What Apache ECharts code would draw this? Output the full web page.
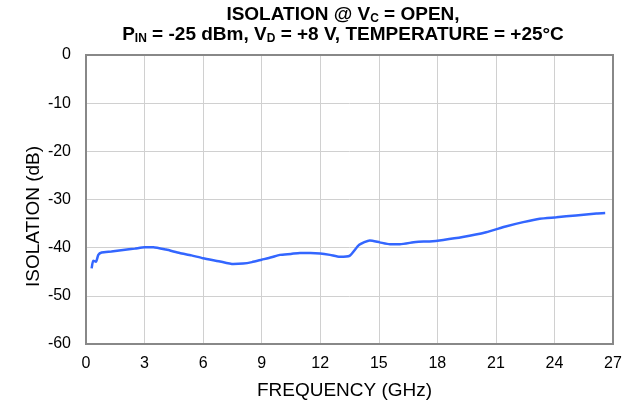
<!DOCTYPE html>
<html>
<head>
<meta charset="utf-8">
<title>Isolation</title>
<script src="https://cdn.jsdelivr.net/npm/echarts@6/dist/echarts.min.js"></script>
<style>
  html, body { margin: 0; padding: 0; background: #fff; }
  #chart { width: 636px; height: 405px; }
</style>
</head>
<body>
<div id="chart"></div>
<script>
// frequency (GHz) and isolation (dB)
var freq = [0.29, 0.37, 0.51, 0.63, 0.8, 1.3, 1.9, 2.5, 3.0, 3.45, 4.1, 4.8, 5.4, 6.0, 6.8, 7.55, 8.05, 8.5, 9.0, 9.5, 9.93, 10.5, 10.96, 11.5, 12.0, 12.5, 13.0, 13.5, 14.0, 14.54, 15.05, 15.57, 16.08, 16.9, 17.6, 18.3, 19.3, 20.5, 21.5, 22.4, 23.25, 24.1, 25.1, 26.15, 26.6];
var isolation = [-44.3, -42.7, -42.9, -41.5, -41.0, -40.8, -40.5, -40.2, -39.9, -39.9, -40.4, -41.1, -41.6, -42.2, -42.8, -43.4, -43.3, -43.0, -42.5, -42.0, -41.5, -41.3, -41.1, -41.1, -41.2, -41.5, -41.9, -41.7, -39.4, -38.5, -38.9, -39.3, -39.3, -38.8, -38.7, -38.4, -37.8, -36.8, -35.6, -34.7, -34.0, -33.7, -33.3, -32.9, -32.8];
var xTicks = [0, 3, 6, 9, 12, 15, 18, 21, 24, 27];
var yTicks = [0, -10, -20, -30, -40, -50, -60];

var points = [];
for (var i = 0; i < freq.length; i++) {
  points.push([freq[i], isolation[i]]);
}

var font = 'Liberation Sans, Arial, sans-serif';
var myChart = echarts.init(document.getElementById('chart'));
var option = {
  animation: false,
  backgroundColor: '#fff',
  title: {
    text: 'ISOLATION @ V{sub|C} = OPEN,\nP{sub|IN} = -25 dBm, V{sub|D} = +8 V, TEMPERATURE = +25°C',
    left: 338,
    top: 0,
    textAlign: 'center',
    textStyle: {
      fontFamily: font,
      fontSize: 19,
      fontWeight: 'bold',
      color: '#000',
      lineHeight: 20,
      rich: {
        sub: { fontFamily: font, fontSize: 12, fontWeight: 'bold', color: '#000', verticalAlign: 'bottom', lineHeight: 14 }
      }
    }
  },
  grid: { left: 86, right: 23, top: 55, bottom: 61 },
  xAxis: {
    type: 'value',
    min: xTicks[0],
    max: xTicks[xTicks.length - 1],
    interval: 3,
    name: 'FREQUENCY (GHz)',
    nameLocation: 'middle',
    nameGap: 37,
    nameMoveOverlap: false,
    nameTextStyle: { fontFamily: font, fontSize: 19, color: '#000', padding: [0, 10, 0, 0] },
    axisLine: { show: false },
    axisTick: { show: false },
    axisLabel: { fontFamily: font, fontSize: 16, color: '#000', margin: 12 },
    splitLine: { show: true, lineStyle: { color: '#d0d0d0', width: 1 } }
  },
  yAxis: {
    type: 'value',
    min: yTicks[yTicks.length - 1],
    max: yTicks[0],
    interval: 10,
    name: 'ISOLATION (dB)',
    nameLocation: 'middle',
    nameGap: 43,
    nameMoveOverlap: false,
    nameTextStyle: { fontFamily: font, fontSize: 19, color: '#000', padding: [0, 34, 0, 0] },
    axisLine: { show: false },
    axisTick: { show: false },
    axisLabel: { fontFamily: font, fontSize: 16, color: '#000', margin: 15 },
    splitLine: { show: true, lineStyle: { color: '#d0d0d0', width: 1 } }
  },
  series: [{
    type: 'line',
    data: points,
    showSymbol: false,
    smooth: 0.2,
    lineStyle: { color: '#3366ff', width: 2.5 },
    z: 3
  }],
  graphic: [{
    type: 'rect',
    shape: { x: 86, y: 55, width: 527, height: 289 },
    style: { fill: 'none', stroke: '#888', lineWidth: 2 },
    z: 10
  }]
};
myChart.setOption(option);
</script>
</body>
</html>
